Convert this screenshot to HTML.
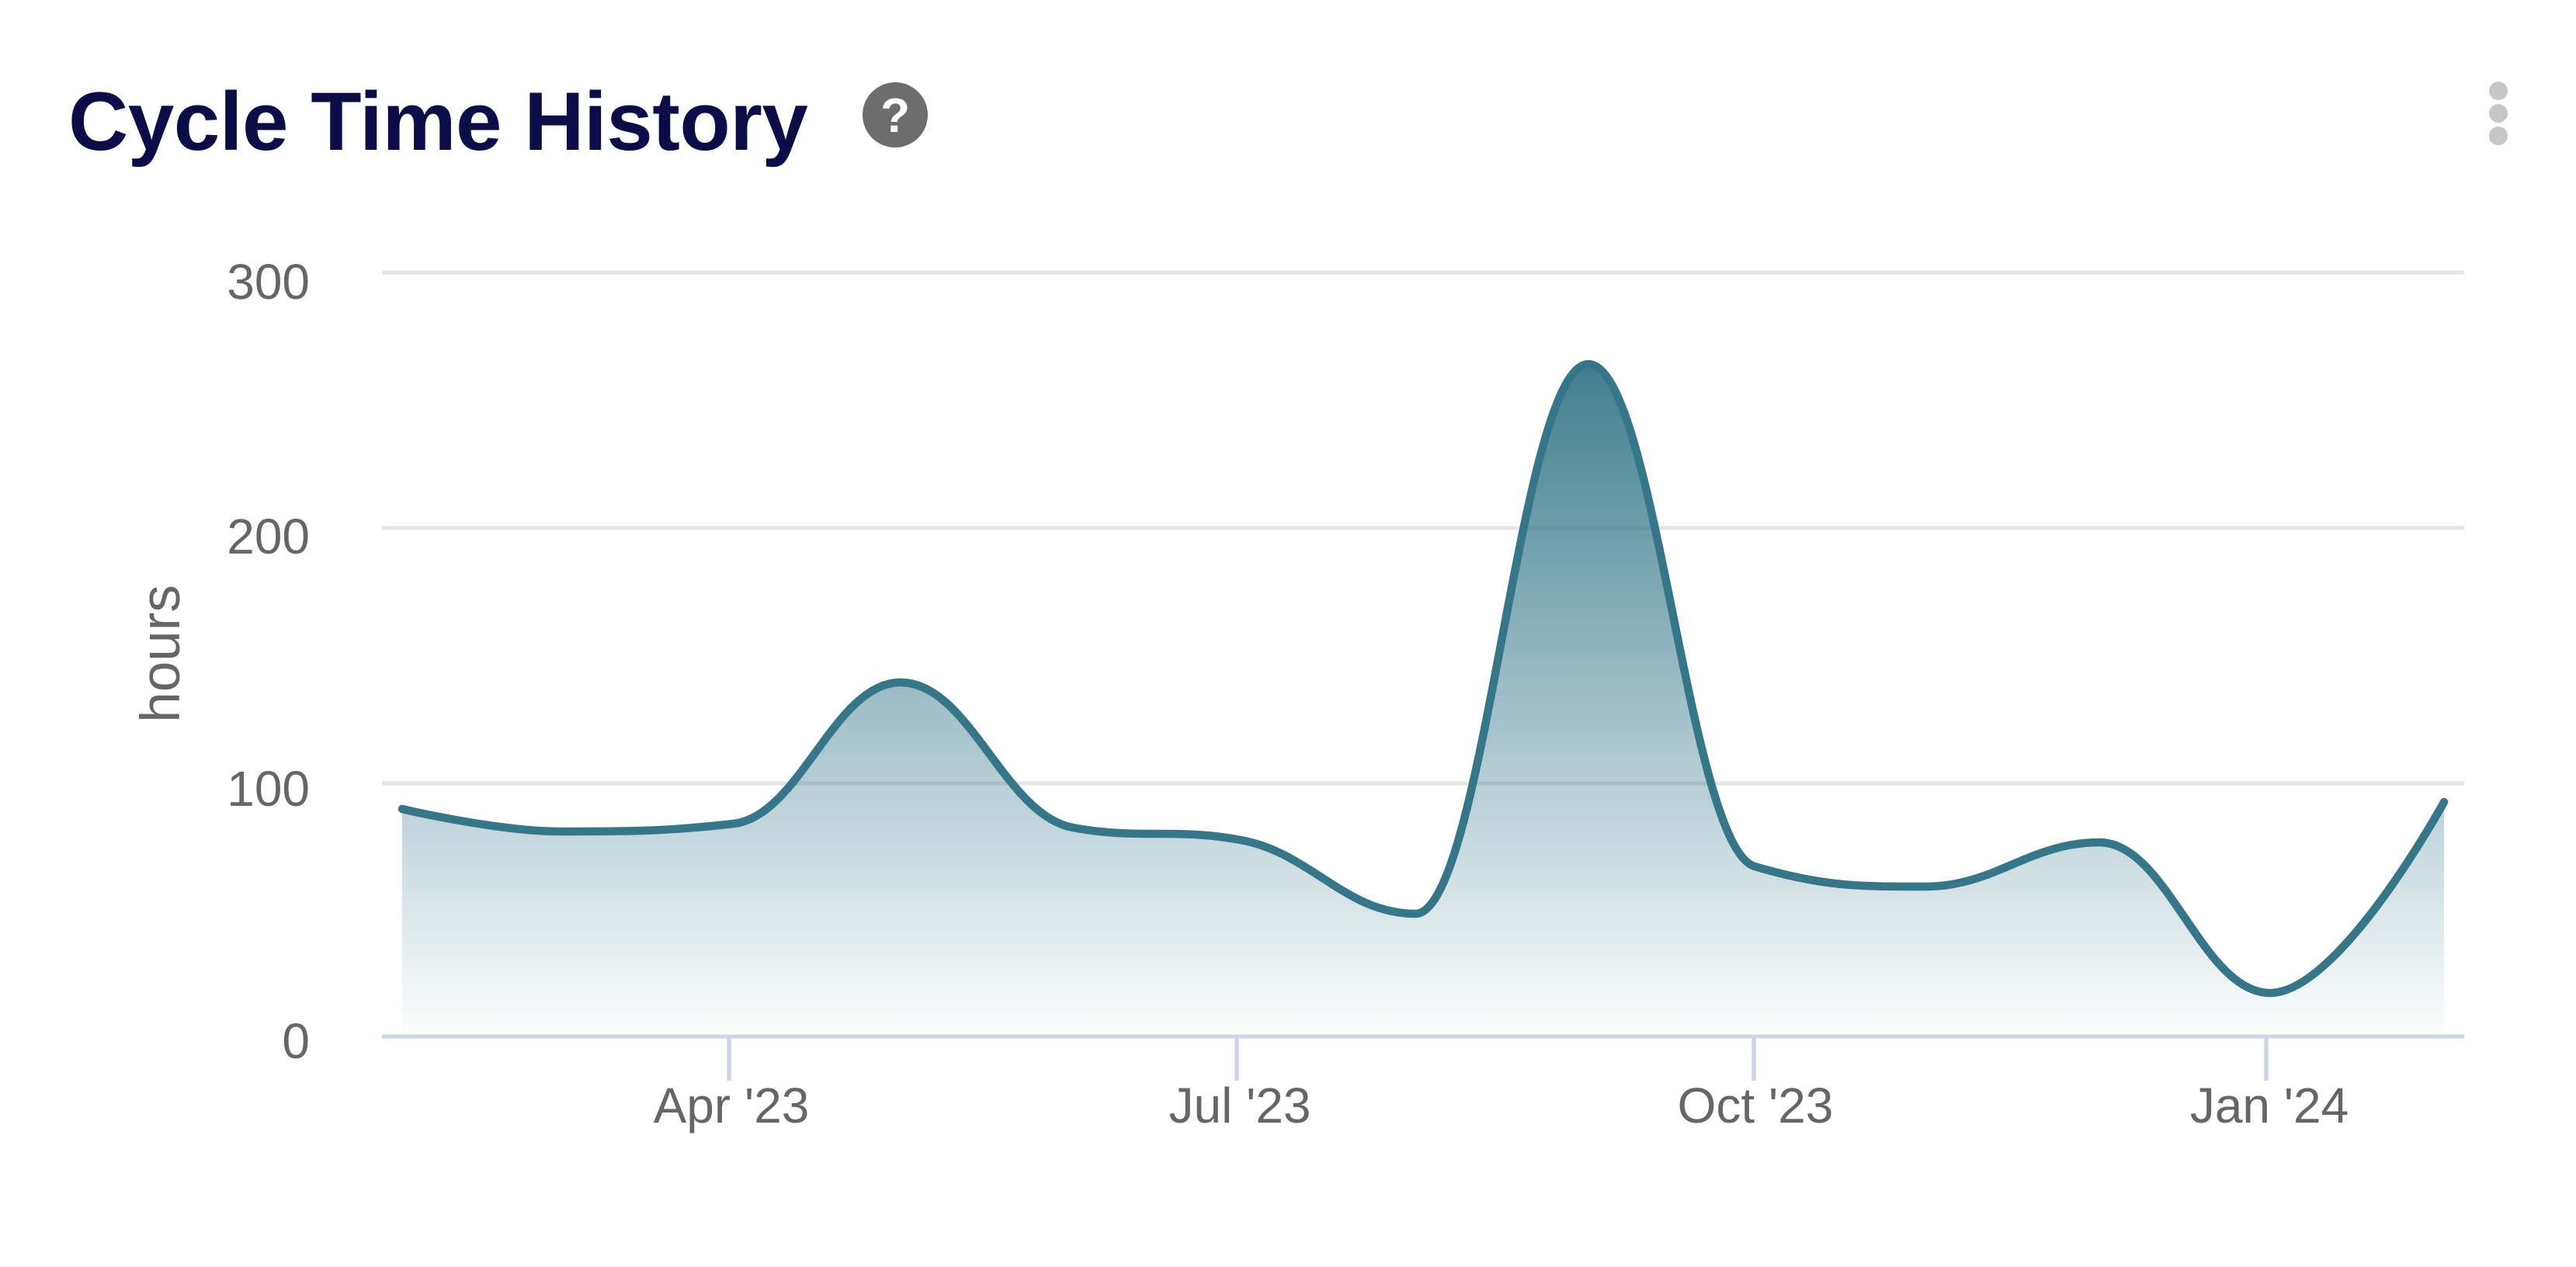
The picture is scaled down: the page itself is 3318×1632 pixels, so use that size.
<!DOCTYPE html>
<html>
<head>
<meta charset="utf-8">
<style>
  html, body { margin: 0; padding: 0; background: #ffffff; }
  svg { display: block; }
</style>
</head>
<body>
<svg width="3318" height="1632" viewBox="0 0 3318 1632" xmlns="http://www.w3.org/2000/svg">
  <defs>
    <linearGradient id="fillGrad" gradientUnits="userSpaceOnUse" x1="0" y1="420" x2="0" y2="1340">
      <stop offset="0" stop-color="#357789" stop-opacity="1"/>
      <stop offset="1" stop-color="#357789" stop-opacity="0"/>
    </linearGradient>
  </defs>

  <rect x="0" y="0" width="3318" height="1632" fill="#ffffff"/>

  <!-- Title -->
  <text x="88" y="193" font-family="Liberation Sans, Arial, sans-serif" font-weight="bold" font-size="107" letter-spacing="-0.5" fill="#0b0c48">Cycle Time History</text>

  <!-- Help icon -->
  <circle cx="1153" cy="148" r="42" fill="#6d6d6d"/>
  <text x="1153" y="170" text-anchor="middle" font-family="Liberation Sans, Arial, sans-serif" font-weight="bold" font-size="62" fill="#ffffff">?</text>

  <!-- Menu dots -->
  <circle cx="3218" cy="117" r="12" fill="#c6c6c6"/>
  <circle cx="3218" cy="146" r="12" fill="#c6c6c6"/>
  <circle cx="3218" cy="175" r="12" fill="#c6c6c6"/>

  <!-- Grid lines -->
  <g stroke="#e6e6e6" stroke-width="5">
    <line x1="492" y1="351" x2="3174" y2="351"/>
    <line x1="492" y1="680" x2="3174" y2="680"/>
    <line x1="492" y1="1009" x2="3174" y2="1009"/>
  </g>

  <!-- Y labels -->
  <g font-family="Liberation Sans, Arial, sans-serif" font-size="64" fill="#666666" text-anchor="end">
    <text x="399" y="385">300</text>
    <text x="399" y="713">200</text>
    <text x="399" y="1038">100</text>
    <text x="399" y="1363">0</text>
  </g>

  <!-- Y axis title -->
  <text transform="translate(231,842) rotate(-90)" text-anchor="middle" font-family="Liberation Sans, Arial, sans-serif" font-size="71" fill="#666666">hours</text>

  <!-- Area fill -->
  <path fill="url(#fillGrad)" d="M 518 1042
    C 518 1042 640.4 1071 722 1071
    C 811.2 1071 855.8 1071 945 1061
    C 1031 1051 1074 879 1160 879
    C 1248.8 879 1293.2 1050 1382 1066
    C 1468.4 1082 1511.6 1066 1598 1082
    C 1688 1098 1733 1177 1823 1177
    C 1912.2 1177 1956.8 469 2046 469
    C 2131.6 469 2174.4 1090 2260 1116
    C 2348 1142 2392 1142 2480 1142
    C 2569.6 1142 2614.4 1085 2704 1085
    C 2792 1085 2836 1279 2924 1279
    C 3013.6 1279 3148 1033 3148 1033
    L 3148 1335 L 518 1335 Z"/>

  <!-- Line -->
  <path fill="none" stroke="#357789" stroke-width="10.5" stroke-linecap="round" stroke-linejoin="round" d="M 518 1042
    C 518 1042 640.4 1071 722 1071
    C 811.2 1071 855.8 1071 945 1061
    C 1031 1051 1074 879 1160 879
    C 1248.8 879 1293.2 1050 1382 1066
    C 1468.4 1082 1511.6 1066 1598 1082
    C 1688 1098 1733 1177 1823 1177
    C 1912.2 1177 1956.8 469 2046 469
    C 2131.6 469 2174.4 1090 2260 1116
    C 2348 1142 2392 1142 2480 1142
    C 2569.6 1142 2614.4 1085 2704 1085
    C 2792 1085 2836 1279 2924 1279
    C 3013.6 1279 3148 1033 3148 1033"/>

  <!-- X axis line -->
  <line x1="492" y1="1335" x2="3174" y2="1335" stroke="#ccd6eb" stroke-width="5"/>

  <!-- Ticks -->
  <g stroke="#ccd6eb" stroke-width="5.5">
    <line x1="939" y1="1335" x2="939" y2="1392"/>
    <line x1="1593" y1="1335" x2="1593" y2="1392"/>
    <line x1="2259" y1="1335" x2="2259" y2="1392"/>
    <line x1="2919" y1="1335" x2="2919" y2="1392"/>
  </g>

  <!-- X labels -->
  <g font-family="Liberation Sans, Arial, sans-serif" font-size="64" fill="#666666" text-anchor="middle">
    <text x="942" y="1446">Apr '23</text>
    <text x="1597" y="1446">Jul '23</text>
    <text x="2261" y="1446">Oct '23</text>
    <text x="2923" y="1446">Jan '24</text>
  </g>
</svg>
</body>
</html>
